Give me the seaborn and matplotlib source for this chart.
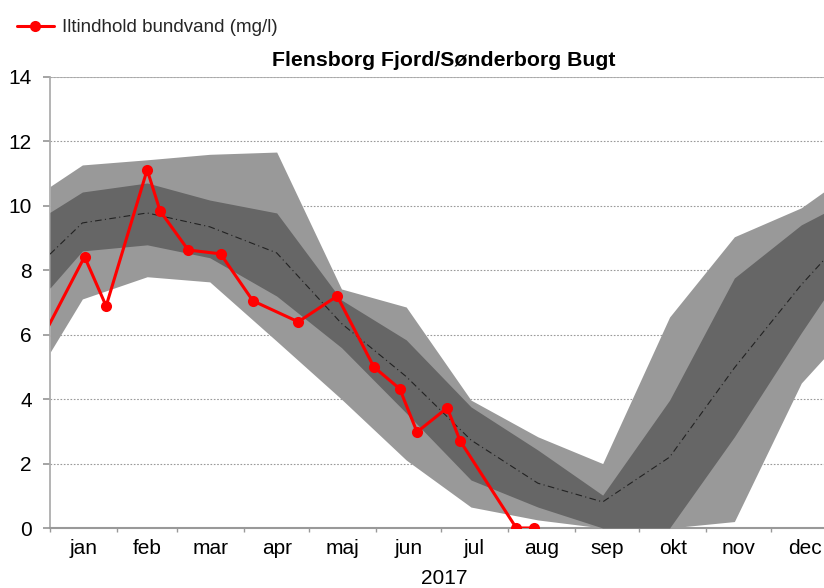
import matplotlib
matplotlib.use("Agg")
import matplotlib.pyplot as plt
import seaborn as sns
import numpy as np
import pandas as pd

# ---- data (x in day of year 2017) ----
months = ["jan", "feb", "mar", "apr", "maj", "jun", "jul", "aug", "sep", "okt", "nov", "dec"]
month_days = [31, 28, 31, 30, 31, 30, 31, 31, 30, 31, 30, 31]

band_day = [0, 15, 45, 74, 105, 135, 165, 195, 226, 256, 287, 317, 348, 365]
light_upper = [10.6, 11.27, 11.43, 11.6, 11.67, 7.42, 6.86, 3.97, 2.83, 2.0, 6.55, 9.04, 9.94, 10.75]
dark_upper = [9.8, 10.43, 10.71, 10.18, 9.78, 7.08, 5.84, 3.76, 2.42, 1.02, 3.97, 7.76, 9.41, 10.0]
median = [8.5, 9.47, 9.78, 9.35, 8.54, 6.35, 4.7, 2.73, 1.39, 0.81, 2.2, 4.97, 7.55, 8.8]
dark_lower = [7.45, 8.6, 8.79, 8.39, 7.2, 5.6, 3.57, 1.49, 0.65, 0.0, 0.0, 2.83, 6.06, 7.75]
light_lower = [5.45, 7.11, 7.8, 7.64, 5.8, 4.0, 2.11, 0.65, 0.25, 0.0, 0.0, 0.2, 4.5, 5.75]

obs_day = [-3, 16, 26, 45, 51, 64, 79, 94, 115, 133, 150, 162, 170, 184, 190, 216, 224]
obs_value = [5.97, 8.42, 6.89, 11.12, 9.84, 8.63, 8.51, 7.05, 6.4, 7.2, 5.0, 4.32, 2.98, 3.73, 2.7, 0.0, 0.0]

title = "Flensborg Fjord/Sønderborg Bugt"
legend_label = "Iltindhold bundvand (mg/l)"
xlabel = "2017"

# ---- styling ----
sns.set_theme(style="white")
plt.rcParams["font.family"] = ["Liberation Sans", "DejaVu Sans"]

fig = plt.figure(figsize=(8.24, 5.88), dpi=100)
ax = fig.add_axes([50 / 824, 60 / 588, 788 / 824, 451 / 588])

band = pd.DataFrame({"x": band_day, "lu": light_upper, "du": dark_upper, "m": median,
                     "dl": dark_lower, "ll": light_lower})
obs = pd.DataFrame({"x": obs_day, "y": obs_value})

ax.fill_between(band["x"], band["ll"], band["lu"], color="#999999", lw=0, zorder=2)
ax.fill_between(band["x"], band["dl"], band["du"], color="#666666", lw=0, zorder=3)
sns.lineplot(data=band, x="x", y="m", ax=ax, color="#222222", lw=0.8,
             linestyle=(0, (6, 3, 1, 3)), zorder=4)
sns.lineplot(data=obs, x="x", y="y", ax=ax, color="#ff0000", lw=2.2, marker="o",
             markersize=8, markeredgewidth=0, zorder=5,
             label=legend_label, legend=False)
ax.lines[-1].set_clip_on(True)

bounds = np.concatenate([[0], np.cumsum(month_days)])
centers = (bounds[:-1] + bounds[1:]) / 2

ax.set_xlim(0, 365)
ax.set_ylim(0, 14)
ax.set_yticks(np.arange(0, 15, 2))
ax.set_yticklabels([str(v) for v in range(0, 15, 2)], fontsize=15)
ax.set_xticks(centers)
ax.set_xticklabels(months, fontsize=15)
ax.set_xticks(bounds, minor=True)
ax.tick_params(axis="x", which="major", length=0, pad=8)
ax.tick_params(axis="x", which="minor", length=3, color="#999999", direction="out", bottom=True)
ax.tick_params(axis="y", length=5, color="#999999", direction="out", left=True, pad=8)
for lab in ax.get_xticklabels() + ax.get_yticklabels():
    lab.set_color("black")

ax.yaxis.grid(True, linestyle=(0, (1.5, 1.5)), color="#9a9a9a", lw=0.8)
ax.set_axisbelow(True)
for s in ["top", "right"]:
    ax.spines[s].set_visible(False)
ax.spines["left"].set_color("#aaaaaa")
ax.spines["bottom"].set_color("#999999")
ax.spines["bottom"].set_linewidth(1.5)
ax.axhline(14, color="#aaaaaa", lw=1.2, zorder=1)

ax.set_xlabel(xlabel, fontsize=15, labelpad=8, color="black")
ax.set_ylabel("")
ax.set_title(title, fontsize=15.3, fontweight="bold", pad=8, color="black")

handles, labels = ax.get_legend_handles_labels()
fig.legend(handles, labels, loc="upper left", bbox_to_anchor=(0.003, 0.991), frameon=False,
           fontsize=13.5, handlelength=2.0, borderaxespad=0.35, handletextpad=0.45)

fig.savefig("out.png", dpi=100)
